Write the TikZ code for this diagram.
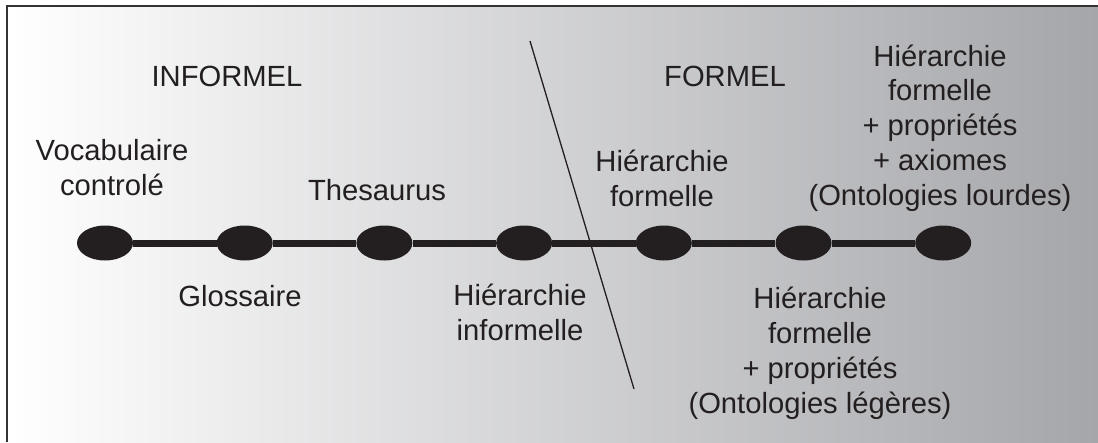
\documentclass[tikz,border=0pt]{standalone}
\usepackage{fontspec}
\setmainfont{Liberation Sans}
\usetikzlibrary{positioning,shapes.geometric}
\definecolor{inkblack}{RGB}{35,31,32}
\definecolor{endgray}{RGB}{165,166,170}
\tikzset{
  level/.style={ellipse, fill=inkblack, minimum width=56pt, minimum height=35pt, inner sep=0pt},
  lbl/.style={align=center, anchor=base, inner sep=0pt, text=inkblack},
}

\begin{document}
\begin{tikzpicture}[x=1pt, y=-1pt, node distance=139.3pt,
  font=\fontsize{29.2}{34.7}\selectfont]
\useasboundingbox (0,0) rectangle (1098,442);
\shade[left color=white, right color=endgray] (7,6) rectangle (1098,442);
\draw[line width=2pt, draw=black!80] (7,442) -- (7,6) -- (1098,6);

\node[level] (e1) at (105,243) {};
\node[level] (e2) [right=83.3pt of e1] {};
\node[level] (e3) [right=83.3pt of e2] {};
\node[level] (e4) [right=83.3pt of e3] {};
\node[level] (e5) [right=83.3pt of e4] {};
\node[level] (e6) [right=83.3pt of e5] {};
\node[level] (e7) [right=83.3pt of e6] {};

\path[draw=inkblack, line width=7pt] (e1) edge (e2) (e2) edge (e3) (e3) edge (e4)
  (e4) edge (e5) (e5) edge (e6) (e6) edge (e7);

\coordinate (sepTop) at (530,41);
\coordinate (sepBot) at (634,389);
\draw[line width=1.3pt, inkblack] (sepTop) -- (sepBot);

% base = baseline of the last line
\node[lbl] (informel) at (227,86) {INFORMEL};
\node[lbl] (formel) at (725,86) {FORMEL};

\node[lbl] (vocab) at (112,195) {Vocabulaire\\controlé};
\node[lbl] (gloss) at (240,306) {Glossaire};
\node[lbl] (thes) at (377,200) {Thesaurus};
\node[lbl] (hinf) at (520,340) {Hiérarchie\\informelle};
\node[lbl] (hform) at (662,206) {Hiérarchie\\formelle};
\node[lbl] (hprop) at (820,413) {Hiérarchie\\formelle\\+ propriétés\\(Ontologies légères)};
\node[lbl] (haxio) at (940,205) {Hiérarchie\\formelle\\+ propriétés\\+ axiomes\\(Ontologies lourdes)};
\end{tikzpicture}
\end{document}
